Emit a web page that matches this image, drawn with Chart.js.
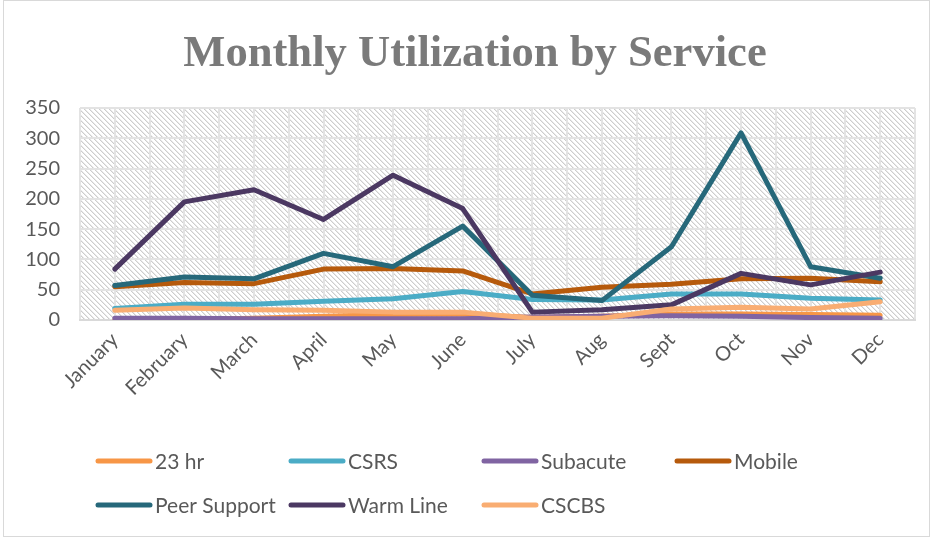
<!DOCTYPE html>
<html>
<head>
<meta charset="utf-8">
<script src="https://cdn.jsdelivr.net/npm/chart.js@4"></script>
<style>
  html, body { margin: 0; padding: 0; background: #fff; }
  #wrap { width: 933px; height: 540px; }
</style>
</head>
<body>
<div id="wrap"><canvas id="chart" width="933" height="540"></canvas></div>
<script>
// --- values ---
const months = ["January", "February", "March", "April", "May", "June", "July", "Aug", "Sept", "Oct", "Nov", "Dec"];
const seriesNames = ["23 hr", "CSRS", "Subacute", "Mobile", "Peer Support", "Warm Line", "CSCBS"];
const seriesColors = ["#f79646", "#4bacc6", "#8064a2", "#b65a0c", "#26687a", "#4b3862", "#f9ad72"];

const hr23 = [0, 1, 3, 6, 9, 10, 4, 6, 10, 10, 9, 8];
const csrs = [19, 26, 26, 31, 35, 47, 34, 33, 43, 43, 36, 33];
const subacute = [3, 3, 2, 2, 2, 2, 5, 6, 7, 6, 4, 3];
const mobile = [55, 62, 60, 84, 85, 81, 43, 54, 59, 68, 69, 63];
const peerSupport = [57, 71, 68, 110, 88, 155, 41, 32, 121, 309, 88, 69];
const warmLine = [84, 195, 215, 166, 239, 184, 13, 17, 25, 77, 58, 79];
const cscbs = [16, 20, 17, 16, 13, 13, 3, 3, 18, 21, 18, 30];

const yTicks = { min: 0, max: 350, step: 50 };

const allSeries = [hr23, csrs, subacute, mobile, peerSupport, warmLine, cscbs];

function makeHatch() {
  const c = document.createElement("canvas");
  c.width = 5; c.height = 5;
  const g = c.getContext("2d");
  g.fillStyle = "#ffffff";
  g.fillRect(0, 0, 5, 5);
  for (let i = 0; i < 5; i++) {
    g.fillStyle = "#cdcdcd";
    g.fillRect(i, i, 1, 1);
    g.fillStyle = "#e9e9e9";
    g.fillRect((i + 1) % 5, i, 1, 1);
  }
  return c;
}

const backdrop = {
  id: "backdrop",
  beforeDraw(chart) {
    const { ctx, chartArea: a } = chart;
    ctx.save();
    ctx.fillStyle = ctx.createPattern(makeHatch(), "repeat");
    ctx.fillRect(a.left, a.top, a.right - a.left, a.bottom - a.top);
    ctx.restore();
  },
  afterDraw(chart) {
    const ctx = chart.ctx;
    ctx.save();
    // outer frame
    ctx.strokeStyle = "#d9d9d9";
    ctx.lineWidth = 1;
    ctx.strokeRect(3.5, 0.5, 926, 536);

    // title
    const title = "Monthly Utilization by Service";
    ctx.fillStyle = "#7a7a7a";
    let size = 40;
    ctx.font = "bold " + size + "px 'Liberation Serif', serif";
    size = size * 584 / ctx.measureText(title).width;
    ctx.font = "bold " + size.toFixed(1) + "px 'Liberation Serif', serif";
    ctx.textAlign = "center";
    ctx.textBaseline = "alphabetic";
    ctx.fillText(title, 475, 66);

    // legend, 4 columns
    ctx.font = "21px Lato, sans-serif";
    ctx.textAlign = "left";
    ctx.textBaseline = "middle";
    chart.data.datasets.forEach((ds, i) => {
      const x0 = 98 + (i % 4) * 193;
      const y = 461 + Math.floor(i / 4) * 44;
      ctx.strokeStyle = ds.borderColor;
      ctx.lineWidth = 5;
      ctx.lineCap = "round";
      ctx.beginPath();
      ctx.moveTo(x0, y);
      ctx.lineTo(x0 + 52, y);
      ctx.stroke();
      ctx.fillStyle = "#595959";
      ctx.fillText(ds.label, x0 + 57, y + 1);
    });
    ctx.restore();
  }
};

const datasets = seriesNames.map((name, i) => ({
  label: name,
  data: allSeries[i],
  borderColor: seriesColors[i],
  backgroundColor: seriesColors[i],
  borderWidth: 5,
  borderCapStyle: "round",
  borderJoinStyle: "round",
  pointRadius: 0,
  tension: 0,
  order: seriesNames.length - i
}));

new Chart(document.getElementById("chart"), {
  type: "line",
  data: { labels: months, datasets: datasets },
  plugins: [backdrop],
  options: {
    responsive: false,
    animation: false,
    layout: { padding: { top: 108, left: 0, right: 18, bottom: 0 } },
    plugins: {
      legend: { display: false },
      title: { display: false },
      tooltip: { enabled: false }
    },
    scales: {
      x: {
        type: "category",
        offset: true,
        grid: { offset: false, color: "#e3e3e3", lineWidth: 2, drawTicks: false },
        border: { display: true, color: "#d9d9d9", width: 2 },
        ticks: {
          color: "#595959",
          font: { family: "Lato, sans-serif", size: 20 },
          minRotation: 45,
          maxRotation: 45,
          padding: 8
        },
        afterFit(scale) { scale.height = 220; }
      },
      x2: {
        type: "category",
        labels: months,
        position: "bottom",
        offset: true,
        grid: { offset: true, color: "#e3e3e3", lineWidth: 2, drawTicks: false },
        border: { display: false },
        ticks: { display: false },
        afterFit(scale) { scale.height = 0; }
      },
      y: {
        min: yTicks.min,
        max: yTicks.max,
        ticks: {
          stepSize: yTicks.step,
          color: "#595959",
          font: { family: "Lato, sans-serif", size: 20 },
          padding: 20
        },
        grid: { color: "#e3e3e3", lineWidth: 2, drawTicks: false },
        border: { display: false },
        afterFit(scale) { scale.height; scale.width = 80; }
      }
    }
  }
});
</script>
</body>
</html>
